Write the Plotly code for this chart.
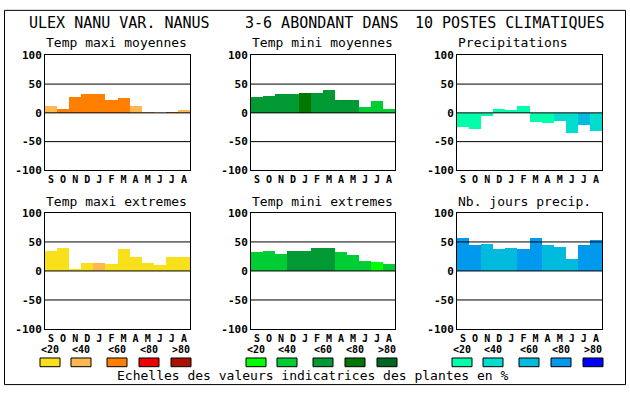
import plotly.graph_objects as go

# ---------------- data ----------------
months = ["S", "O", "N", "D", "J", "F", "M", "A", "M", "J", "J", "A"]
title_parts = ["ULEX NANU VAR. NANUS", "3-6 ABONDANT DANS", "10 POSTES CLIMATIQUES"]
panel_titles = ["Temp maxi moyennes", "Temp mini moyennes", "Precipitations",
                "Temp maxi extremes", "Temp mini extremes", "Nb. jours precip."]
scale_labels = ["<20", "<40", "<60", "<80", ">80"]
caption = "Echelles des valeurs indicatrices des plantes en %"
y_ticks = [-100, -50, 0, 50, 100]

tmax_moy = [12, 7, 27, 33, 33, 23, 25, 12, 2, 0, 2, 5]
tmax_moy_cls = [1, 2, 2, 2, 2, 2, 2, 1, 1, 1, 2, 1]
tmin_moy = [27, 30, 32, 32, 35, 35, 40, 22, 22, 10, 20, 7]
tmin_moy_cls = [2, 2, 2, 2, 3, 2, 2, 2, 2, 1, 1, 1]
precip = [-25, -28, -6, 7, 5, 12, -16, -18, -15, -35, -21, -31]
precip_cls = [0, 0, 0, 0, 0, 0, 0, 0, 1, 1, 2, 1]
tmax_ext = [34, 40, 4, 14, 14, 12, 37, 24, 14, 10, 24, 24]
tmax_ext_cls = [0, 0, 0, 0, 1, 0, 0, 0, 0, 0, 0, 0]
tmin_ext = [32, 34, 30, 34, 35, 40, 40, 32, 27, 17, 15, 12]
tmin_ext_cls = [1, 1, 1, 2, 2, 2, 2, 1, 1, 1, 0, 1]
jours = [57, 45, 47, 37, 40, 37, 57, 44, 42, 20, 44, 54]
jours_cls = [3, 3, 2, 2, 2, 3, 3, 2, 2, 2, 3, 3]

pal_orange = ["#F8E11A", "#FFB84F", "#FF8000", "#EE0000", "#AA1100"]
pal_green = ["#00FF00", "#00CC33", "#009933", "#007700", "#006622"]
pal_blue = ["#00FFAA", "#00DDCC", "#00BBDD", "#0099EE", "#0000FF"]

panels = [
    (tmax_moy, tmax_moy_cls, pal_orange),
    (tmin_moy, tmin_moy_cls, pal_green),
    (precip, precip_cls, pal_blue),
    (tmax_ext, tmax_ext_cls, pal_orange),
    (tmin_ext, tmin_ext_cls, pal_green),
    (jours, jours_cls, pal_blue),
]
col_palettes = [pal_orange, pal_green, pal_blue]

# ---------------- layout helpers ----------------
W, H = 630, 394
MONO = "DejaVu Sans Mono"
col_left = [45, 251, 457]
col_right = [190, 395, 602]
row_top = [51, 214]
row_bot = [170, 334]


def px(x):
    return x / W


def py(y):
    return 1 - y / H


fig = go.Figure()
layout = dict(
    width=W, height=H, autosize=False,
    margin=dict(l=0, r=0, t=0, b=0),
    paper_bgcolor="white", plot_bgcolor="white",
    showlegend=False, bargap=0,
    font=dict(family=MONO, color="black"),
)
shapes = []
annotations = []

for i, (vals, cls, pal) in enumerate(panels):
    r, c = divmod(i, 3)
    n = i + 1
    xa = "x" if n == 1 else f"x{n}"
    ya = "y" if n == 1 else f"y{n}"
    fig.add_trace(go.Bar(
        x=list(range(len(months))), y=vals,
        marker=dict(color=[pal[k] for k in cls], line=dict(width=0)),
        width=1, xaxis=xa, yaxis=ya, hoverinfo="skip",
    ))
    xkey = "xaxis" if n == 1 else f"xaxis{n}"
    ykey = "yaxis" if n == 1 else f"yaxis{n}"
    layout[xkey] = dict(
        domain=[px(col_left[c]), px(col_right[c])], anchor=ya,
        range=[-0.5, 11.5], tickmode="array",
        tickvals=list(range(len(months))),
        ticktext=[f"<b>{m}</b>" for m in months],
        tickfont=dict(family=MONO, size=10, color="black"),
        showgrid=False, zeroline=False, ticks="", ticklabelstandoff=0,
        showline=True, mirror=True, linecolor="black", linewidth=1,
        fixedrange=True,
    )
    layout[ykey] = dict(
        domain=[py(row_bot[r]), py(row_top[r])], anchor=xa,
        range=[-100, 100], tickmode="array", tickvals=y_ticks,
        ticktext=[f"<b>{t}</b>" for t in y_ticks],
        tickfont=dict(family=MONO, size=11, color="black"),
        showgrid=False, zeroline=False, ticks="",
        showline=True, mirror=True, linecolor="black", linewidth=1,
        fixedrange=True,
    )
    for g in y_ticks[1:-1]:
        shapes.append(dict(type="line", xref=f"{xa} domain", yref=ya,
                           x0=0, x1=1, y0=g, y1=g,
                           line=dict(color="black", width=1), layer="above"))
    annotations.append(dict(
        text=panel_titles[i], xref="paper", yref="paper",
        x=px(col_left[c] - 1), y=py(38 if r == 0 else 202),
        xanchor="left", yanchor="middle", showarrow=False,
        font=dict(family=MONO, size=13, color="black")))

# main title
for x0, t in zip([27, 243, 413], title_parts):
    annotations.append(dict(
        text=t, xref="paper", yref="paper", x=px(x0), y=py(18),
        xanchor="left", yanchor="middle", showarrow=False,
        font=dict(family=MONO, size=15, color="black")))

# colour scale legends
box_offsets = [-5, 26, 62, 94, 126]
for c, pal in enumerate(col_palettes):
    for k, (off, lab) in enumerate(zip(box_offsets, scale_labels)):
        x0 = col_left[c] + off
        shapes.append(dict(type="rect", xref="paper", yref="paper",
                           x0=px(x0), x1=px(x0 + 20), y0=py(373), y1=py(364),
                           fillcolor=pal[k], line=dict(color="black", width=1)))
        annotations.append(dict(
            text=f"<b>{lab}</b>", xref="paper", yref="paper",
            x=px(x0 + 10), y=py(355), xanchor="center", yanchor="middle",
            showarrow=False, font=dict(family=MONO, size=10, color="black")))

annotations.append(dict(
    text=caption, xref="paper", yref="paper", x=px(115), y=py(382),
    xanchor="left", yanchor="middle", showarrow=False,
    font=dict(family=MONO, size=13, color="black")))

# outer frame
shapes.append(dict(type="rect", xref="paper", yref="paper",
                   x0=px(4.5), x1=px(625.5), y0=py(391.5), y1=py(4.5),
                   line=dict(color="black", width=1)))

layout["shapes"] = shapes
layout["annotations"] = annotations
fig.update_layout(**layout)
fig.write_html("out.html", config={"displayModeBar": False, "staticPlot": True},
               post_script="document.body.style.margin='0';document.body.style.overflow='hidden';")
